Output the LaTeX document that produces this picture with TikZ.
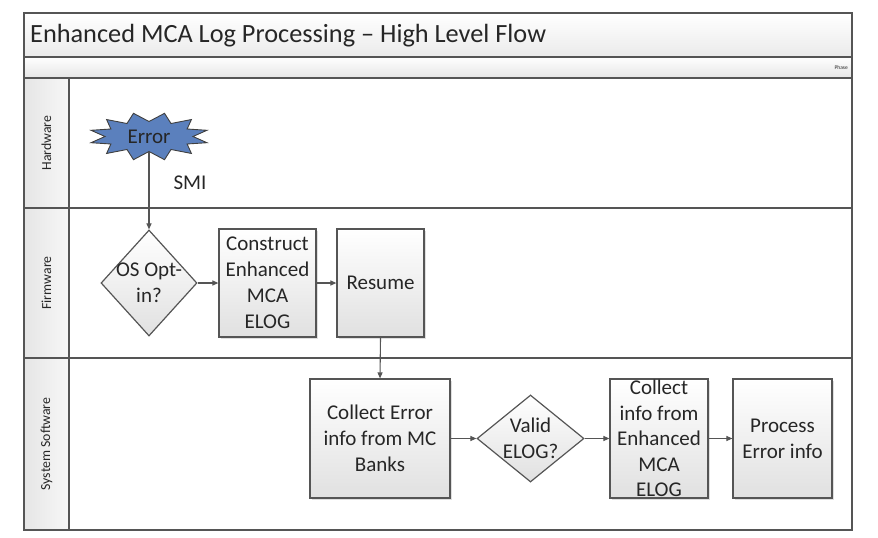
\documentclass[tikz,border=0pt]{standalone}
\usepackage{fontspec}
\setmainfont{Carlito}
\usetikzlibrary{shapes.geometric,arrows.meta,shadows}
\definecolor{ink}{HTML}{262626}
\definecolor{frame}{HTML}{555555}
\definecolor{starblue}{HTML}{5B80BD}
\tikzset{
  boxfont/.style={font=\fontsize{21}{26}\selectfont, text=ink},
  stepbox/.style={draw=frame, line width=1.2pt, rectangle, boxfont, align=center,
    inner sep=1pt, top color=white, bottom color=black!12,
    drop shadow={shadow xshift=1.5pt, shadow yshift=-1.5pt, opacity=0.25}},
  decide/.style={draw=frame, line width=1.2pt, diamond, boxfont, align=center,
    inner sep=0pt, top color=white, bottom color=black!12},
  conn/.style={draw=frame, line width=1.1pt, -{Triangle[length=6pt,width=5pt]}},
  lane/.style={draw=frame, line width=1.6pt},
  lanelabel/.style={font=\fontsize{13.8}{15}\selectfont, text=ink, rotate=90},
}
\newcommand{\zw}[1]{\makebox[0pt]{#1}}
\begin{document}
\begin{tikzpicture}[x=1pt,y=-1pt]
\useasboundingbox (0,0) rectangle (878,538);
% bands
\path[top color=white, bottom color=black!8] (24,13) rectangle (852,57);
\path[top color=white, bottom color=black!10] (24,57) rectangle (852,78);
\path[left color=black!10, right color=black!3] (24,78) rectangle (69,530);
\draw[lane] (24,13) rectangle (852,530);
\draw[lane] (24,57) -- (852,57);
\draw[lane] (24,78) -- (852,78);
\draw[lane] (24,208) -- (852,208);
\draw[lane] (24,358) -- (852,358);
\draw[lane] (69,78) -- (69,530);
% title
\node[anchor=west, font=\fontsize{26.3}{30}\selectfont, text=ink, inner sep=0pt] (title) at (30,36) {Enhanced MCA Log Processing -- High Level Flow};
\node[anchor=east, font=\fontsize{5.5}{6}\selectfont, text=ink, inner sep=0pt] (phase) at (848,67.5) {Phase};
% lane labels
\node[lanelabel] (hw) at (46.5,143) {Hardware};
\node[lanelabel] (fw) at (46.5,283) {Firmware};
\node[lanelabel] (ss) at (46.5,444) {System Software};
% star
\draw[fill=starblue, draw=black!75, line width=0.9pt]
  plot[samples=24, domain=0:23, variable=\i]
  ({149 + (mod(\i,2)==0 ? 44 : 60)*cos(90+\i*15)},
   {136.5 + (mod(\i,2)==0 ? 15 : 24)*sin(90+\i*15)}) -- cycle;
\node[ellipse, minimum width=88pt, minimum height=30pt, inner sep=0pt, boxfont] (err) at (149,136.5) {Error};
\node[boxfont] (smi) at (190,183) {SMI};
% firmware
\node[decide, minimum width=96pt, minimum height=106pt] (os) at (149,283) {\zw{OS Opt-}\\\zw{in?}};
\node[stepbox, minimum width=97pt, minimum height=108pt] (cons) at (267.5,283) {Construct\\Enhanced\\MCA\\ELOG};
\node[stepbox, minimum width=87pt, minimum height=108pt] (res) at (380.5,283) {Resume};
% system software
\node[stepbox, minimum width=140pt, minimum height=119pt] (ce) at (380,438.5) {Collect Error\\info from MC\\Banks};
\node[decide, minimum width=107pt, minimum height=87pt] (ve) at (530.5,438.5) {\zw{Valid}\\\zw{ELOG?}};
\node[stepbox, minimum width=98pt, minimum height=119pt, inner sep=0pt, font=\fontsize{21}{25.5}\selectfont] (ci) at (659,438.5) {Collect\\info from\\Enhanced\\MCA\\ELOG};
\node[stepbox, minimum width=99pt, minimum height=119pt] (pe) at (782.5,438.5) {Process\\Error info};
% connectors
\draw[conn] (err.south) -- (os.north);
\draw[conn] (os.east) -- (cons.west);
\draw[conn] (cons.east) -- (res.west);
\draw[conn] (res.south) -- (ce.north);
\draw[conn] (ce.east) -- (ve.west);
\draw[conn] (ve.east) -- (ci.west);
\draw[conn] (ci.east) -- (pe.west);
\end{tikzpicture}
\end{document}
